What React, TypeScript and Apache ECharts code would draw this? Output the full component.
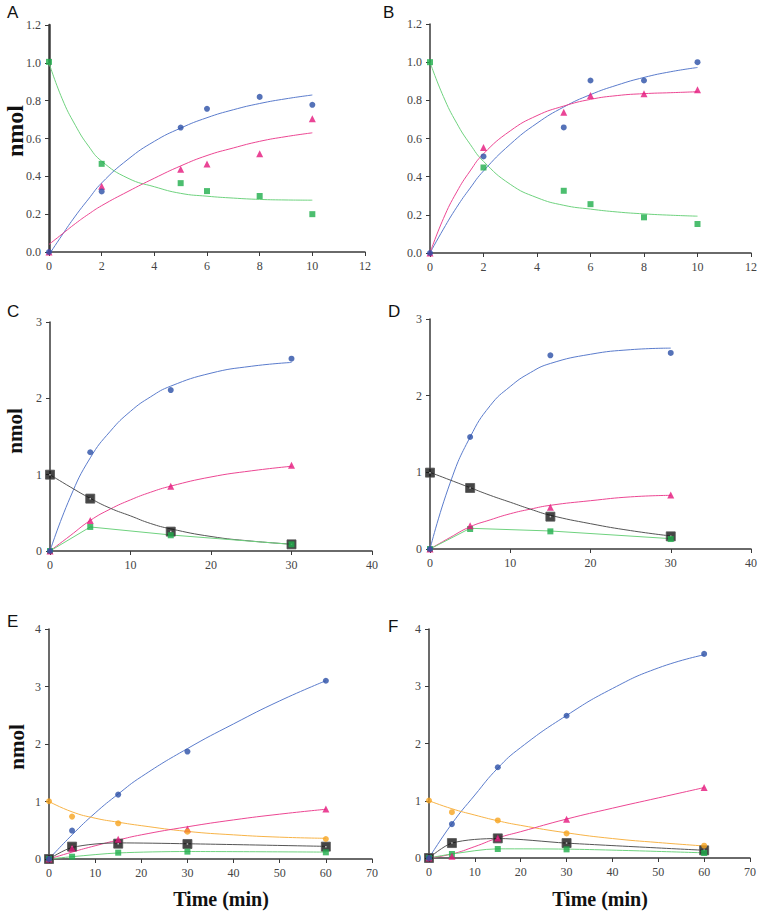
import React, { useEffect, useRef } from "react";
import * as echarts from "echarts";

// ---------- Data ----------
// Panels A & B: time points and curve sample points
const xAB = [0, 2, 5, 6, 8, 10];
const fitXAB = [0, 0.5, 1, 1.5, 2, 3, 4, 5, 6, 7, 8, 9, 10];
const aBlue = [0, 0.32, 0.658, 0.757, 0.82, 0.778];
const aPink = [0, 0.347, 0.438, 0.465, 0.52, 0.704];
const aGreen = [1.005, 0.466, 0.364, 0.322, 0.296, 0.2];
const aBlueFit = [-0.015, 0.09, 0.19, 0.28, 0.365, 0.49, 0.585, 0.655, 0.71, 0.752, 0.785, 0.81, 0.83];
const aPinkFit = [0.04, 0.095, 0.15, 0.2, 0.245, 0.32, 0.39, 0.455, 0.51, 0.55, 0.585, 0.61, 0.63];
const aGreenFit = [1.0, 0.81, 0.67, 0.56, 0.48, 0.39, 0.345, 0.31, 0.295, 0.285, 0.278, 0.275, 0.274];

const bBlue = [0, 0.506, 0.658, 0.904, 0.904, 1.0];
const bPink = [0, 0.553, 0.738, 0.825, 0.834, 0.855];
const bGreen = [1.0, 0.448, 0.326, 0.256, 0.187, 0.152];
const bBlueFit = [0, 0.125, 0.24, 0.34, 0.43, 0.57, 0.68, 0.765, 0.83, 0.88, 0.92, 0.95, 0.972];
const bPinkFit = [0, 0.18, 0.32, 0.43, 0.52, 0.64, 0.72, 0.77, 0.805, 0.825, 0.835, 0.84, 0.845];
const bGreenFit = [1.0, 0.82, 0.68, 0.57, 0.48, 0.36, 0.29, 0.25, 0.23, 0.215, 0.205, 0.198, 0.193];

// Panels C & D
const xCD = [0, 5, 15, 30];
const fitXCD = [0, 2.5, 5, 7.5, 10, 12.5, 15, 20, 25, 30];
const cBlue = [0, 1.294, 2.108, 2.519];
const cPink = [0, 0.398, 0.848, 1.124];
const cGreen = [0, 0.315, 0.206, 0.087];
const cBlack = [1.0, 0.686, 0.254, 0.087];
const cBlueFit = [0, 0.7, 1.22, 1.57, 1.83, 2.02, 2.16, 2.33, 2.42, 2.47];
const cPinkFit = [0, 0.2, 0.4, 0.55, 0.67, 0.77, 0.85, 0.97, 1.05, 1.11];
const cBlackFit = [1.0, 0.84, 0.69, 0.56, 0.46, 0.36, 0.29, 0.19, 0.13, 0.09];
const cGreenLine = [0, 0.315, 0.21, 0.087];

const dBlue = [0, 1.461, 2.526, 2.557];
const dPink = [0, 0.304, 0.543, 0.704];
const dGreen = [0, 0.261, 0.23, 0.13];
const dBlack = [0.996, 0.796, 0.422, 0.165];
const dBlueFit = [0, 0.86, 1.46, 1.87, 2.12, 2.3, 2.42, 2.54, 2.6, 2.62];
const dPinkFit = [0, 0.15, 0.29, 0.38, 0.46, 0.52, 0.57, 0.63, 0.68, 0.7];
const dBlackFit = [1.0, 0.9, 0.8, 0.7, 0.61, 0.52, 0.44, 0.33, 0.24, 0.17];
const dGreenLine = [0, 0.27, 0.235, 0.135];

// Panels E & F
const xEF = [0, 5, 15, 30, 60];
const fitXEF = [0, 5, 10, 15, 20, 30, 40, 50, 60];
const eBlue = [0, 0.493, 1.12, 1.869, 3.1];
const eOrange = [1.004, 0.737, 0.621, 0.476, 0.348];
const ePink = [0, 0.186, 0.343, 0.522, 0.871];
const eBlack = [0, 0.215, 0.267, 0.261, 0.215];
const eGreen = [0, 0.04, 0.11, 0.128, 0.116];
const eBlueFit = [0, 0.42, 0.8, 1.13, 1.43, 1.92, 2.35, 2.75, 3.1];
const eOrangeFit = [1.0, 0.82, 0.71, 0.64, 0.58, 0.48, 0.42, 0.38, 0.36];
const ePinkFit = [0, 0.12, 0.23, 0.33, 0.42, 0.56, 0.68, 0.78, 0.865];
const eBlackLine = [0, 0.2, 0.28, 0.265, 0.22];
const eGreenLine = [0, 0.04, 0.105, 0.13, 0.12];

const fBlue = [0, 0.592, 1.585, 2.485, 3.565];
const fOrange = [1.004, 0.8, 0.656, 0.43, 0.215];
const fPink = [0, 0.03, 0.348, 0.679, 1.231];
const fBlack = [0, 0.261, 0.343, 0.261, 0.134];
const fGreen = [0, 0.07, 0.157, 0.151, 0.087];
const fBlueFit = [0, 0.6, 1.1, 1.57, 1.93, 2.49, 2.96, 3.32, 3.55];
const fOrangeFit = [1.0, 0.86, 0.75, 0.65, 0.57, 0.44, 0.34, 0.27, 0.21];
const fPinkFit = [0, 0.07, 0.2, 0.35, 0.46, 0.68, 0.87, 1.05, 1.23];
const fBlackLine = [0, 0.26, 0.34, 0.26, 0.135];
const fGreenLine = [0, 0.07, 0.16, 0.155, 0.09];

const panelLetters = ["A", "B", "C", "D", "E", "F"];
const yAxisTitle = "nmol";
const xAxisTitle = "Time (min)";

// ---------- Styles ----------
const C = {
  blue: "#2a4fa6",
  blueLine: "#5b7ccc",
  pink: "#e5167c",
  pinkLine: "#ec4793",
  green: "#1fae4b",
  greenLine: "#6fd27f",
  orange: "#f6a41f",
  orangeLine: "#f7b347",
  black: "#161616",
  blackLine: "#555555",
};

const SERIF = "Liberation Serif";
const SANS = "Liberation Sans";

const zip = (xs: number[], ys: number[]) => xs.map((x, i) => [x, ys[i]]);

const grids = [
  { left: 49, top: 25, width: 316, height: 227 },
  { left: 430, top: 24, width: 321, height: 229 },
  { left: 50, top: 322, width: 322, height: 229 },
  { left: 430, top: 319, width: 323, height: 230 },
  { left: 49, top: 629, width: 323, height: 230 },
  { left: 429, top: 629, width: 321, height: 229 },
];

const xRanges = [
  { max: 12, interval: 2 },
  { max: 12, interval: 2 },
  { max: 40, interval: 10 },
  { max: 40, interval: 10 },
  { max: 70, interval: 10 },
  { max: 70, interval: 10 },
];
const yRanges = [
  { max: 1.2, interval: 0.2, dec: 1 },
  { max: 1.2, interval: 0.2, dec: 1 },
  { max: 3, interval: 1, dec: 0 },
  { max: 3, interval: 1, dec: 0 },
  { max: 4, interval: 1, dec: 0 },
  { max: 4, interval: 1, dec: 0 },
];

function fitLine(idx: number, xs: number[], ys: number[], color: string, smooth: boolean | number = true) {
  return {
    type: "line",
    xAxisIndex: idx,
    yAxisIndex: idx,
    data: zip(xs, ys),
    smooth,
    showSymbol: false,
    symbol: "none",
    lineStyle: { color, width: 1 },
    z: 2,
    silent: true,
  };
}

function pts(idx: number, xs: number[], ys: number[], color: string, symbol: string, size: number, z = 4, border?: string) {
  return {
    type: "scatter",
    xAxisIndex: idx,
    yAxisIndex: idx,
    data: zip(xs, ys),
    symbol,
    symbolSize: size,
    itemStyle: border ? { color, borderColor: border, borderWidth: 1 } : { color },
    z,
    silent: true,
  };
}

function blackSquares(idx: number, xs: number[], ys: number[]) {
  return [
    pts(idx, xs, ys, C.black, "rect", 9, 3, "#555555"),
    {
      type: "scatter",
      xAxisIndex: idx,
      yAxisIndex: idx,
      data: zip(xs, ys),
      symbol: "rect",
      symbolSize: 1.5,
      itemStyle: { color: "#e0e0e0" },
      z: 3,
      silent: true,
    },
  ];
}

export default function App() {
  const ref = useRef<HTMLDivElement>(null);

  useEffect(() => {
    if (!ref.current) return;
    const chart = echarts.init(ref.current, undefined, { renderer: "svg" });

    const axisLineStyle = (w: number) => ({ show: true, lineStyle: { color: "#3a3a3a", width: w } });

    const xAxis = grids.map((_, i) => ({
      type: "value",
      gridIndex: i,
      min: 0,
      max: xRanges[i].max,
      interval: xRanges[i].interval,
      splitLine: { show: false },
      axisLine: axisLineStyle(1.5),
      axisTick: { show: true, length: 4, lineStyle: { color: "#3a3a3a", width: 1 } },
      axisLabel: { fontFamily: SERIF, fontSize: 12, color: "#444", margin: 8 },
    }));

    const yAxis = grids.map((_, i) => ({
      type: "value",
      gridIndex: i,
      min: 0,
      max: yRanges[i].max,
      interval: yRanges[i].interval,
      splitLine: { show: false },
      axisLine: axisLineStyle(i === 0 ? 2.5 : 1.5),
      axisTick: { show: true, length: 4, lineStyle: { color: "#3a3a3a", width: 1 } },
      axisLabel: {
        fontFamily: SERIF,
        fontSize: 12,
        color: "#444",
        margin: 8,
        formatter: (v: number) => v.toFixed(yRanges[i].dec),
      },
    }));

    const series: any[] = [
      // A
      fitLine(0, fitXAB, aGreenFit, C.greenLine),
      fitLine(0, fitXAB, aBlueFit, C.blueLine),
      fitLine(0, fitXAB, aPinkFit, C.pinkLine),
      pts(0, xAB, aGreen, C.green, "rect", 6),
      pts(0, xAB, aPink, C.pink, "triangle", 7),
      pts(0, xAB, aBlue, C.blue, "circle", 6),
      // B
      fitLine(1, fitXAB, bGreenFit, C.greenLine),
      fitLine(1, fitXAB, bBlueFit, C.blueLine),
      fitLine(1, fitXAB, bPinkFit, C.pinkLine),
      pts(1, xAB, bGreen, C.green, "rect", 6),
      pts(1, xAB, bPink, C.pink, "triangle", 7),
      pts(1, xAB, bBlue, C.blue, "circle", 6),
      // C
      fitLine(2, fitXCD, cBlueFit, C.blueLine),
      fitLine(2, fitXCD, cPinkFit, C.pinkLine),
      fitLine(2, fitXCD, cBlackFit, C.blackLine),
      fitLine(2, xCD, cGreenLine, C.greenLine, false),
      ...blackSquares(2, xCD, cBlack),
      pts(2, xCD, cGreen, C.green, "rect", 6),
      pts(2, xCD, cPink, C.pink, "triangle", 7),
      pts(2, xCD, cBlue, C.blue, "circle", 6),
      // D
      fitLine(3, fitXCD, dBlueFit, C.blueLine),
      fitLine(3, fitXCD, dPinkFit, C.pinkLine),
      fitLine(3, fitXCD, dBlackFit, C.blackLine),
      fitLine(3, xCD, dGreenLine, C.greenLine, false),
      ...blackSquares(3, xCD, dBlack),
      pts(3, xCD, dGreen, C.green, "rect", 6),
      pts(3, xCD, dPink, C.pink, "triangle", 7),
      pts(3, xCD, dBlue, C.blue, "circle", 6),
      // E
      fitLine(4, fitXEF, eBlueFit, C.blueLine),
      fitLine(4, fitXEF, eOrangeFit, C.orangeLine),
      fitLine(4, fitXEF, ePinkFit, C.pinkLine),
      fitLine(4, xEF, eBlackLine, C.blackLine, 0.3),
      fitLine(4, xEF, eGreenLine, C.greenLine, 0.3),
      ...blackSquares(4, xEF, eBlack),
      pts(4, xEF, eGreen, C.green, "rect", 6),
      pts(4, xEF, ePink, C.pink, "triangle", 7),
      pts(4, xEF, eOrange, C.orange, "circle", 6),
      pts(4, xEF, eBlue, C.blue, "circle", 6),
      // F
      fitLine(5, fitXEF, fBlueFit, C.blueLine),
      fitLine(5, fitXEF, fOrangeFit, C.orangeLine),
      fitLine(5, fitXEF, fPinkFit, C.pinkLine),
      fitLine(5, xEF, fBlackLine, C.blackLine, 0.3),
      fitLine(5, xEF, fGreenLine, C.greenLine, 0.3),
      ...blackSquares(5, xEF, fBlack),
      pts(5, xEF, fGreen, C.green, "rect", 6),
      pts(5, xEF, fPink, C.pink, "triangle", 7),
      pts(5, xEF, fOrange, C.orange, "circle", 6),
      pts(5, xEF, fBlue, C.blue, "circle", 6),
    ];

    const letterPos = [
      [7, 4], [383, 4], [7, 303], [388, 303], [7, 613], [388, 618],
    ];

    const graphic: any[] = panelLetters.map((t, i) => ({
      type: "text",
      left: letterPos[i][0],
      top: letterPos[i][1],
      style: { text: t, fontFamily: SANS, fontSize: 17, fill: "#111" },
      silent: true,
    }));

    const nmolPos = [
      { x: 15, y: 131, size: 24 },
      { x: 15, y: 431, size: 21 },
      { x: 17, y: 747, size: 21 },
    ];
    nmolPos.forEach((p) => {
      graphic.push({
        type: "text",
        x: p.x,
        y: p.y,
        rotation: Math.PI / 2,
        style: {
          text: yAxisTitle,
          fontFamily: SERIF,
          fontWeight: "bold",
          fontSize: p.size,
          fill: "#111",
          textAlign: "center",
          textVerticalAlign: "middle",
        },
        silent: true,
      });
    });

    [221, 600].forEach((cx) => {
      graphic.push({
        type: "text",
        x: cx,
        y: 899,
        style: {
          text: xAxisTitle,
          fontFamily: SERIF,
          fontWeight: "bold",
          fontSize: 20,
          fill: "#111",
          textAlign: "center",
          textVerticalAlign: "middle",
        },
        silent: true,
      });
    });

    chart.setOption({
      animation: false,
      backgroundColor: "#ffffff",
      grid: grids.map((g) => ({ ...g, containLabel: false })),
      xAxis,
      yAxis,
      series,
      graphic,
    });

    return () => chart.dispose();
  }, []);

  return (
    <div
      ref={ref}
      style={{ position: "fixed", left: 0, top: 0, width: 760, height: 911, background: "#fff" }}
    />
  );
}
